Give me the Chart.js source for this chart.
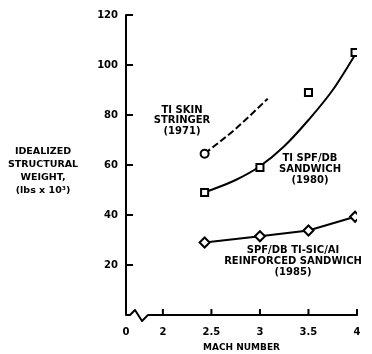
<!DOCTYPE html>
<html>
<head>
<meta charset="utf-8">
<script src="https://cdn.jsdelivr.net/npm/chart.js@4"></script>
<style>
  html, body { margin: 0; padding: 0; background: #fff; }
  #wrap { width: 372px; height: 354px; }
</style>
</head>
<body>
<div id="wrap"><canvas id="weightChart"></canvas></div>
<script>
// values (x = mach number, y = weight, lbs x 10^3)
const stringerMach = [2.43, 2.75, 3.08];
const stringerWeight = [64.5, 74.5, 86.5];

const sandwichMach = [2.43, 3.0, 3.5, 3.98];
const sandwichWeight = [49, 59, 89, 105];
const sandwichFitMach = [2.43, 2.75, 3.0, 3.25, 3.5, 3.75, 3.98];
const sandwichFitWeight = [49, 54, 59.5, 67.5, 78, 90, 104];

const reinforcedMach = [2.43, 3.0, 3.5, 3.98];
const reinforcedWeight = [29, 31.5, 33.8, 39.3];

const machTicks = [1.62, 2, 2.5, 3, 3.5, 4];
const machTickLabels = ['0', '2', '2.5', '3', '3.5', '4'];
const weightTicks = [20, 40, 60, 80, 100, 120];

const FONT = '"DejaVu Sans", sans-serif';

function pts(xs, ys) {
  return xs.map((x, i) => ({ x: x, y: ys[i] }));
}

// axes drawn by hand: inward ticks and the broken x axis
const axisPlugin = {
  id: 'axisPlugin',
  afterDraw(chart) {
    const { ctx, chartArea, scales: { x, y } } = chart;
    const x0 = chartArea.left;
    const yb = y.getPixelForValue(0);
    const yt = y.getPixelForValue(120);
    const xe = x.getPixelForValue(4);
    ctx.save();
    ctx.strokeStyle = '#000';
    ctx.lineWidth = 2;
    ctx.lineJoin = 'round';
    ctx.beginPath();
    ctx.moveTo(x0 + 7, yt);
    ctx.lineTo(x0, yt);
    ctx.lineTo(x0, yb);
    ctx.lineTo(x0 + 4, yb);
    ctx.lineTo(x0 + 9, yb - 5);
    ctx.lineTo(x0 + 16, yb + 6);
    ctx.lineTo(x0 + 22, yb);
    ctx.lineTo(xe, yb);
    ctx.lineTo(xe, yb - 6);
    ctx.stroke();
    ctx.beginPath();
    weightTicks.slice(0, -1).forEach(v => {
      const py = y.getPixelForValue(v);
      ctx.moveTo(x0, py);
      ctx.lineTo(x0 + 7, py);
    });
    [2, 2.5, 3, 3.5].forEach(v => {
      const px = x.getPixelForValue(v);
      ctx.moveTo(px, yb);
      ctx.lineTo(px, yb - 6);
    });
    ctx.stroke();

    // text blocks
    ctx.fillStyle = '#000';
    ctx.textAlign = 'center';
    ctx.textBaseline = 'middle';
    ctx.font = 'bold 9.5px ' + FONT;
    const yTitle = ['IDEALIZED', 'STRUCTURAL', 'WEIGHT,', '(lbs x 10\u00B3)'];
    yTitle.forEach((t, i) => ctx.fillText(t, 43, 152 + i * 13));

    ctx.font = 'bold 10px ' + FONT;
    ['TI SKIN', 'STRINGER', '(1971)'].forEach((t, i) => ctx.fillText(t, 182, 110 + i * 10.5));
    ['TI SPF/DB', 'SANDWICH', '(1980)'].forEach((t, i) => ctx.fillText(t, 310, 158 + i * 11));
    ['SPF/DB TI-SIC/AI', 'REINFORCED SANDWICH', '(1985)'].forEach((t, i) => ctx.fillText(t, 293, 250 + i * 11));
    ctx.restore();
  }
};

const ctx = document.getElementById('weightChart').getContext('2d');
new Chart(ctx, {
  type: 'line',
  data: {
    datasets: [
      {
        label: 'Ti skin stringer (1971)',
        data: pts(stringerMach, stringerWeight),
        borderColor: '#000',
        borderWidth: 2,
        borderDash: [7, 3],
        cubicInterpolationMode: 'monotone',
        pointRadius: [4, 0, 0],
        pointStyle: 'circle',
        pointBorderWidth: 2,
        pointBackgroundColor: '#fff',
        pointBorderColor: '#000'
      },
      {
        label: 'Ti SPF/DB sandwich (1980)',
        data: pts(sandwichMach, sandwichWeight),
        showLine: false,
        pointRadius: 5,
        pointStyle: 'rect',
        pointBorderWidth: 2,
        pointBackgroundColor: '#fff',
        pointBorderColor: '#000'
      },
      {
        label: 'Ti SPF/DB sandwich fit',
        data: pts(sandwichFitMach, sandwichFitWeight),
        borderColor: '#000',
        borderWidth: 2,
        cubicInterpolationMode: 'monotone',
        pointRadius: 0
      },
      {
        label: 'SPF/DB Ti-SiC/Al reinforced sandwich (1985)',
        data: pts(reinforcedMach, reinforcedWeight),
        borderColor: '#000',
        borderWidth: 2,
        tension: 0,
        pointRadius: 5,
        pointStyle: 'rectRot',
        pointBorderWidth: 2,
        pointBackgroundColor: '#fff',
        pointBorderColor: '#000'
      }
    ]
  },
  options: {
    responsive: true,
    maintainAspectRatio: false,
    animation: false,
    layout: { padding: { top: 15, right: 15, left: 0, bottom: 0 } },
    plugins: {
      legend: { display: false },
      tooltip: { enabled: false }
    },
    scales: {
      x: {
        type: 'linear',
        min: 1.62,
        max: 4,
        afterBuildTicks: s => { s.ticks = machTicks.map(v => ({ value: v })); },
        afterFit: s => { s.height = 39; },
        grid: { display: false, drawTicks: false },
        border: { display: false },
        ticks: {
          padding: 11,
          color: '#000',
          maxRotation: 0,
          autoSkip: false,
          font: { family: FONT, size: 10, weight: 'bold' },
          callback: (v, i) => machTickLabels[i]
        },
        title: {
          display: true,
          text: 'MACH NUMBER',
          color: '#000',
          font: { family: FONT, size: 9, weight: 'bold' },
          padding: { top: 0, bottom: 1 }
        }
      },
      y: {
        min: 0,
        max: 120,
        afterBuildTicks: s => { s.ticks = weightTicks.map(v => ({ value: v })); },
        afterFit: s => { s.width = 126; },
        grid: { display: false, drawTicks: false },
        border: { display: false },
        ticks: {
          padding: 8,
          color: '#000',
          font: { family: FONT, size: 10, weight: 'bold' }
        }
      }
    }
  },
  plugins: [axisPlugin]
});
</script>
</body>
</html>
